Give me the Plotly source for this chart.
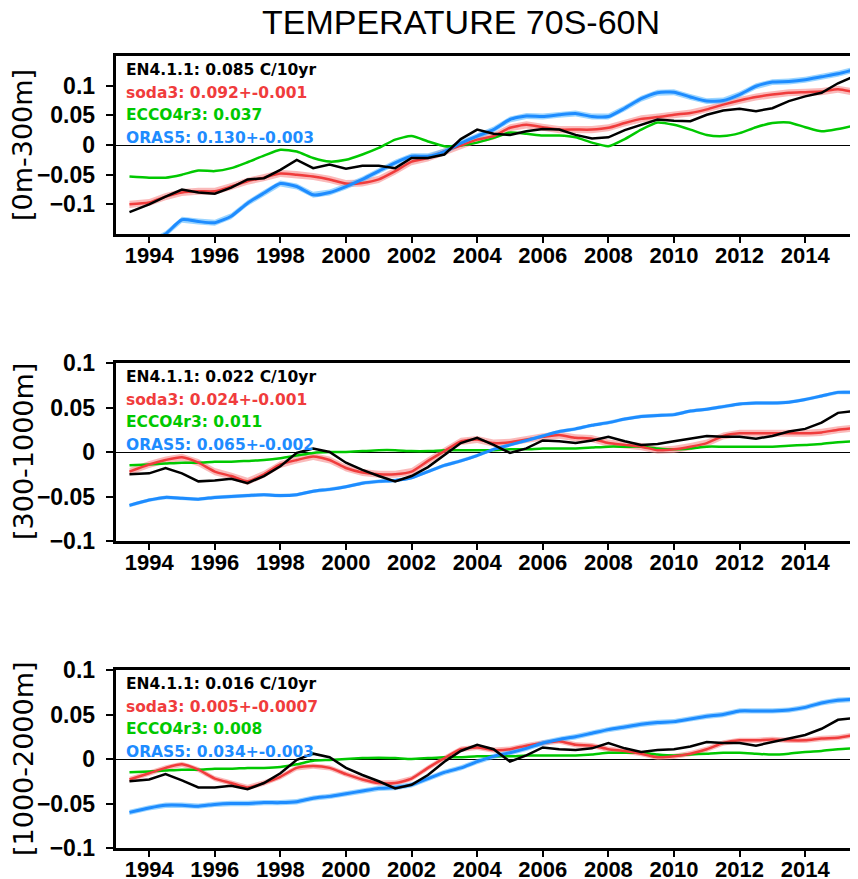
import plotly.graph_objects as go

# ---------------- data ----------------
TIME = [1993.4, 1994.0, 1994.5, 1995.0, 1995.5, 1996.0, 1996.5, 1997.0, 1997.5, 1998.0,
        1998.5, 1999.0, 1999.5, 2000.0, 2000.5, 2001.0, 2001.5, 2002.0, 2002.5, 2003.0,
        2003.5, 2004.0, 2004.5, 2005.0, 2005.5, 2006.0, 2006.5, 2007.0, 2007.5, 2008.0,
        2008.5, 2009.0, 2009.5, 2010.0, 2010.5, 2011.0, 2011.5, 2012.0, 2012.5, 2013.0,
        2013.5, 2014.0, 2014.5, 2015.0, 2015.5]

# Panel 1: 0-300 m
en4_1 = [-0.113, -0.100, -0.087, -0.075, -0.080, -0.082, -0.072, -0.058, -0.056, -0.042,
         -0.025, -0.039, -0.033, -0.040, -0.035, -0.035, -0.039, -0.022, -0.022, -0.016,
         0.010, 0.026, 0.019, 0.017, 0.023, 0.027, 0.026, 0.017, 0.011, 0.013,
         0.025, 0.034, 0.043, 0.041, 0.040, 0.051, 0.058, 0.061, 0.057, 0.062,
         0.074, 0.082, 0.088, 0.104, 0.116]
soda3_1 = [-0.100, -0.097, -0.087, -0.080, -0.078, -0.078, -0.070, -0.061, -0.055, -0.048,
           -0.050, -0.053, -0.058, -0.065, -0.064, -0.058, -0.044, -0.028, -0.022, -0.011,
           -0.001, 0.009, 0.015, 0.029, 0.034, 0.030, 0.026, 0.026, 0.026, 0.029,
           0.037, 0.044, 0.047, 0.051, 0.054, 0.060, 0.068, 0.075, 0.081, 0.085,
           0.088, 0.089, 0.090, 0.094, 0.089]
ecco_1 = [-0.053, -0.055, -0.055, -0.050, -0.043, -0.044, -0.039, -0.029, -0.018, -0.008,
          -0.011, -0.022, -0.028, -0.025, -0.016, -0.005, 0.009, 0.015, 0.006, -0.002,
          -0.001, 0.004, 0.012, 0.021, 0.019, 0.016, 0.016, 0.013, 0.004, -0.002,
          0.010, 0.026, 0.038, 0.034, 0.026, 0.017, 0.015, 0.020, 0.030, 0.037,
          0.038, 0.030, 0.023, 0.027, 0.033]
oras5_1 = [-0.175, -0.165, -0.150, -0.126, -0.129, -0.131, -0.120, -0.098, -0.081, -0.065,
           -0.070, -0.084, -0.080, -0.070, -0.058, -0.044, -0.030, -0.019, -0.019, -0.011,
           0.003, 0.015, 0.026, 0.043, 0.049, 0.048, 0.051, 0.053, 0.048, 0.048,
           0.062, 0.078, 0.088, 0.089, 0.081, 0.074, 0.075, 0.085, 0.099, 0.106,
           0.107, 0.110, 0.115, 0.120, 0.127]

# Panel 2: 300-1000 m
en4_2 = [-0.025, -0.024, -0.018, -0.024, -0.033, -0.032, -0.030, -0.035, -0.027, -0.016,
         -0.001, 0.004, 0.000, -0.012, -0.020, -0.027, -0.033, -0.027, -0.017, -0.004,
         0.010, 0.016, 0.008, -0.001, 0.004, 0.013, 0.012, 0.010, 0.013, 0.017,
         0.012, 0.008, 0.009, 0.012, 0.015, 0.018, 0.017, 0.017, 0.015, 0.018,
         0.023, 0.026, 0.033, 0.044, 0.046]
soda3_2 = [-0.022, -0.014, -0.009, -0.006, -0.012, -0.022, -0.027, -0.033, -0.025, -0.014,
           -0.009, -0.005, -0.009, -0.018, -0.023, -0.025, -0.025, -0.022, -0.010, 0.001,
           0.012, 0.014, 0.010, 0.011, 0.014, 0.017, 0.019, 0.016, 0.015, 0.010,
           0.008, 0.006, 0.002, 0.003, 0.006, 0.010, 0.018, 0.021, 0.021, 0.021,
           0.021, 0.021, 0.022, 0.025, 0.027]
ecco_2 = [-0.015, -0.014, -0.013, -0.012, -0.012, -0.011, -0.011, -0.010, -0.009, -0.007,
          -0.004, -0.001, 0.000, 0.000, 0.001, 0.002, 0.002, 0.001, 0.001, 0.002,
          0.002, 0.002, 0.002, 0.003, 0.003, 0.004, 0.004, 0.004, 0.005, 0.006,
          0.006, 0.006, 0.004, 0.003, 0.004, 0.006, 0.006, 0.006, 0.006, 0.006,
          0.007, 0.008, 0.009, 0.011, 0.012]
oras5_2 = [-0.060, -0.054, -0.051, -0.052, -0.053, -0.051, -0.050, -0.049, -0.048, -0.049,
           -0.048, -0.044, -0.042, -0.039, -0.035, -0.033, -0.032, -0.029, -0.022, -0.015,
           -0.010, -0.004, 0.003, 0.008, 0.013, 0.018, 0.023, 0.026, 0.030, 0.033,
           0.037, 0.040, 0.041, 0.042, 0.046, 0.048, 0.051, 0.054, 0.055, 0.055,
           0.056, 0.059, 0.063, 0.067, 0.067]

# Panel 3: 1000-2000 m
en4_3 = [-0.025, -0.023, -0.017, -0.024, -0.032, -0.032, -0.030, -0.034, -0.027, -0.016,
         -0.001, 0.006, 0.002, -0.010, -0.018, -0.025, -0.033, -0.029, -0.018, -0.003,
         0.009, 0.016, 0.011, -0.003, 0.004, 0.013, 0.011, 0.010, 0.012, 0.018,
         0.012, 0.008, 0.010, 0.011, 0.014, 0.019, 0.018, 0.018, 0.015, 0.019,
         0.023, 0.027, 0.034, 0.044, 0.046]
soda3_3 = [-0.023, -0.016, -0.010, -0.006, -0.012, -0.022, -0.027, -0.032, -0.027, -0.020,
           -0.010, -0.008, -0.010, -0.017, -0.023, -0.027, -0.027, -0.022, -0.010, 0.001,
           0.011, 0.013, 0.010, 0.011, 0.015, 0.018, 0.020, 0.016, 0.015, 0.011,
           0.009, 0.006, 0.002, 0.003, 0.006, 0.011, 0.018, 0.021, 0.021, 0.022,
           0.021, 0.021, 0.023, 0.024, 0.027]
ecco_3 = [-0.015, -0.014, -0.013, -0.012, -0.012, -0.011, -0.011, -0.010, -0.010, -0.009,
          -0.006, -0.002, -0.001, 0.000, 0.001, 0.0015, 0.001, 0.000, 0.001, 0.002,
          0.002, 0.003, 0.003, 0.003, 0.004, 0.004, 0.004, 0.004, 0.005, 0.007,
          0.007, 0.007, 0.005, 0.004, 0.005, 0.006, 0.007, 0.007, 0.006, 0.005,
          0.006, 0.008, 0.009, 0.011, 0.012]
oras5_3 = [-0.060, -0.055, -0.052, -0.052, -0.053, -0.051, -0.050, -0.050, -0.049, -0.049,
           -0.048, -0.044, -0.042, -0.039, -0.036, -0.033, -0.032, -0.029, -0.022, -0.015,
           -0.010, -0.003, 0.003, 0.007, 0.012, 0.018, 0.022, 0.025, 0.029, 0.033,
           0.036, 0.039, 0.041, 0.042, 0.045, 0.048, 0.050, 0.054, 0.054, 0.054,
           0.055, 0.058, 0.063, 0.066, 0.067]

# ensemble half-spread (shaded bands) per panel
soda3_spread = [0.006, 0.004, 0.003]
oras5_spread = [0.005, 0.002, 0.003]

depth_labels = ["[0m-300m]", "[300-1000m]", "[1000-2000m]"]
en4_text = ["EN4.1.1: 0.085 C/10yr", "EN4.1.1: 0.022 C/10yr", "EN4.1.1: 0.016 C/10yr"]
soda3_text = ["soda3: 0.092+-0.001", "soda3: 0.024+-0.001", "soda3: 0.005+-0.0007"]
ecco_text = ["ECCO4r3: 0.037", "ECCO4r3: 0.011", "ECCO4r3: 0.008"]
oras5_text = ["ORAS5: 0.130+-0.003", "ORAS5: 0.065+-0.002", "ORAS5: 0.034+-0.003"]

x_tickvals = [1994, 1996, 1998, 2000, 2002, 2004, 2006, 2008, 2010, 2012, 2014]
x_ticktext = ["1994", "1996", "1998", "2000", "2002", "2004", "2006", "2008", "2010", "2012", "2014"]
y_tickvals = [-0.1, -0.05, 0, 0.05, 0.1]
y_ticktext = ["\u22120.1", "\u22120.05", "0", "0.05", "0.1"]
y_ranges = [[-0.15, 0.15], [-0.1, 0.1], [-0.1, 0.1]]

EN4 = [en4_1, en4_2, en4_3]
SODA = [soda3_1, soda3_2, soda3_3]
ECCO = [ecco_1, ecco_2, ecco_3]
ORAS = [oras5_1, oras5_2, oras5_3]
for arr in EN4 + SODA + ECCO + ORAS:
    assert len(arr) == len(TIME)

# ---------------- style / layout ----------------
# the page body has an 8px margin, so the figure is 8px smaller and
# reference pixel positions are shifted by 8px
OFF = 8
W, H = 858 - OFF, 879 - OFF


def px(xr):
    return (xr - OFF) / W


def py(yr):
    return 1 - (yr - OFF) / H


panel_px = [(56, 234), (363, 541), (670, 848)]  # top, bottom in reference pixels
x_left_px = 115.7

BLACK = "#000000"
RED = "#f03c3c"
GREEN = "#00c800"
BLUE = "#1e8cff"
RED_BAND = "rgba(245,130,130,0.55)"
BLUE_BAND = "rgba(90,185,255,0.6)"

TICKFONT = dict(family="Liberation Sans", size=23, color="black", weight="bold")
XTICKFONT = dict(family="Liberation Sans", size=22, color="black", weight="bold")

fig = go.Figure()
layout = dict(
    width=W, height=H,
    margin=dict(l=0, r=0, t=0, b=0),
    paper_bgcolor="white", plot_bgcolor="white",
    showlegend=False,
)
annotations = []

for i in range(3):
    sfx = "" if i == 0 else str(i + 1)
    xref, yref = "x" + sfx, "y" + sfx
    top, bot = panel_px[i]

    def band(y, s, color):
        up = [v + s for v in y]
        lo = [v - s for v in y]
        return go.Scatter(x=TIME + TIME[::-1], y=up + lo[::-1], fill="toself",
                          fillcolor=color, line=dict(width=0), mode="lines",
                          hoverinfo="skip", xaxis=xref, yaxis=yref)

    fig.add_trace(band(SODA[i], soda3_spread[i], RED_BAND))
    fig.add_trace(band(ORAS[i], oras5_spread[i], BLUE_BAND))
    fig.add_trace(go.Scatter(x=TIME, y=ECCO[i], mode="lines", name="ECCO4r3",
                             line=dict(color=GREEN, width=2.5, shape="spline", smoothing=0.6),
                             xaxis=xref, yaxis=yref))
    fig.add_trace(go.Scatter(x=TIME, y=SODA[i], mode="lines", name="soda3",
                             line=dict(color=RED, width=2.5, shape="spline", smoothing=0.6),
                             xaxis=xref, yaxis=yref))
    fig.add_trace(go.Scatter(x=TIME, y=ORAS[i], mode="lines", name="ORAS5",
                             line=dict(color=BLUE, width=3, shape="spline", smoothing=0.6),
                             xaxis=xref, yaxis=yref))
    fig.add_trace(go.Scatter(x=TIME, y=EN4[i], mode="lines", name="EN4.1.1",
                             line=dict(color=BLACK, width=2.5),
                             xaxis=xref, yaxis=yref))

    layout["xaxis" + sfx] = dict(
        domain=[px(x_left_px), 1.0], anchor=yref, range=[1992.98, 2015.61],
        showline=True, linewidth=3, linecolor="black", mirror=True,
        ticks="outside", ticklen=6, tickwidth=2, tickcolor="black",
        tickvals=x_tickvals, ticktext=x_ticktext, tickfont=XTICKFONT,
        ticklabelstandoff=-6, showgrid=False, zeroline=False, automargin=False,
    )
    layout["yaxis" + sfx] = dict(
        domain=[py(bot), py(top)], anchor=xref, range=y_ranges[i],
        showline=True, linewidth=3, linecolor="black", mirror=False,
        ticks="outside", ticklen=7, tickwidth=2, tickcolor="black",
        tickvals=y_tickvals, ticktext=y_ticktext, tickfont=TICKFONT,
        ticklabelstandoff=6, showgrid=False, zeroline=True, zerolinecolor="black",
        zerolinewidth=1, automargin=False,
    )

    # legend-like texts
    texts = [(en4_text[i], BLACK), (soda3_text[i], RED), (ecco_text[i], GREEN), (oras5_text[i], BLUE)]
    for k, (t, c) in enumerate(texts):
        offset = 14 + 22.7 * k
        annotations.append(dict(
            text=t, xref="paper", yref="paper",
            x=px(124), y=py(top + offset), xanchor="left", yanchor="middle",
            showarrow=False, font=dict(family="DejaVu Sans", size=15.5, color=c, weight="bold"),
        ))
    # depth label
    annotations.append(dict(
        text=depth_labels[i], xref="paper", yref="paper",
        x=px(23), y=py((top + bot) / 2), xanchor="center", yanchor="middle",
        textangle=-90, showarrow=False,
        font=dict(family="DejaVu Sans", size=27, color="black"),
    ))

annotations.append(dict(
    text="TEMPERATURE 70S-60N", xref="paper", yref="paper",
    x=px(461), y=py(22), xanchor="center", yanchor="middle", showarrow=False,
    font=dict(family="Liberation Sans", size=34, color="black"),
))
layout["annotations"] = annotations
fig.update_layout(**layout)
fig.write_html("out.html")
